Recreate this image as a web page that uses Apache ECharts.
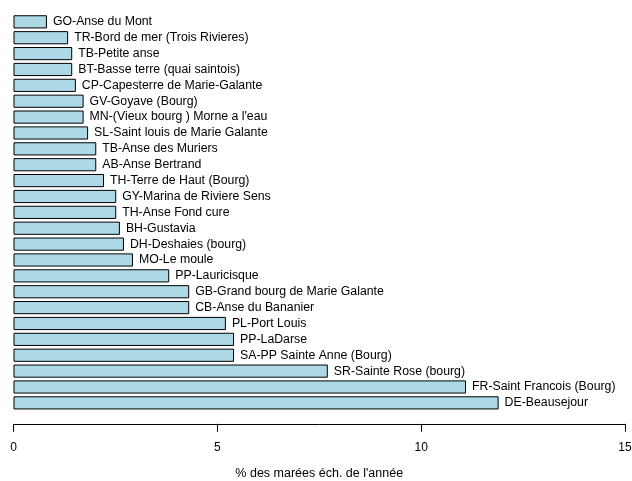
<!DOCTYPE html>
<html><head><meta charset="utf-8">
<script src="https://cdn.jsdelivr.net/npm/echarts@6/dist/echarts.min.js"></script>
<style>html,body{margin:0;padding:0;background:#fff}#c{width:632px;height:481px}</style>
</head><body><div id="c"></div>
<script>
const categories = [
  "GO-Anse du Mont","TR-Bord de mer (Trois Rivieres)","TB-Petite anse","BT-Basse terre (quai saintois)",
  "CP-Capesterre de Marie-Galante","GV-Goyave (Bourg)","MN-(Vieux bourg ) Morne a l'eau","SL-Saint louis de Marie Galante",
  "TB-Anse des Muriers","AB-Anse Bertrand","TH-Terre de Haut (Bourg)","GY-Marina de Riviere Sens",
  "TH-Anse Fond cure","BH-Gustavia","DH-Deshaies (bourg)","MO-Le moule","PP-Lauricisque",
  "GB-Grand bourg de Marie Galante","CB-Anse du Bananier","PL-Port Louis","PP-LaDarse",
  "SA-PP Sainte Anne (Bourg)","SR-Sainte Rose (bourg)","FR-Saint Francois (Bourg)","DE-Beausejour"
];
const values = [0.82,1.34,1.44,1.44,1.53,1.72,1.72,1.83,2.03,2.03,2.22,2.52,2.52,2.61,2.71,2.93,3.82,4.31,4.31,5.21,5.41,5.41,7.71,11.1,11.9];
const xTicks = [0,5,10,15];
const xTitle = "% des marées éch. de l'année";

const font = "Liberation Sans, Arial, sans-serif";
const chart = echarts.init(document.getElementById('c'));
chart.setOption({
  animation:false,
  grid:{left:13.5,right:7,top:13.9,height:396.9,containLabel:false,outerBoundsMode:'none'},
  xAxis:{type:'value',min:xTicks[0],max:xTicks[xTicks.length-1],interval:5,position:'bottom',offset:13,
    splitLine:{show:false},
    axisLine:{show:true,lineStyle:{color:'#000',width:1}},
    axisTick:{show:true,length:8,lineStyle:{color:'#000'}},
    axisLabel:{color:'#000',fontSize:12,fontFamily:font,margin:18},
    name:xTitle,nameLocation:'middle',nameGap:43,
    nameTextStyle:{color:'#000',fontSize:12.5,fontFamily:font}},
  yAxis:{type:'category',data:categories,inverse:true,show:false},
  series:[{type:'bar',data:values,barCategoryGap:'17%',
    itemStyle:{color:'#ADD8E6',borderColor:'#000',borderWidth:1},
    label:{show:true,position:'right',distance:6,formatter:p=>categories[p.dataIndex],
      color:'#000',fontSize:12.3,fontFamily:font}}]
});
</script></body></html>
